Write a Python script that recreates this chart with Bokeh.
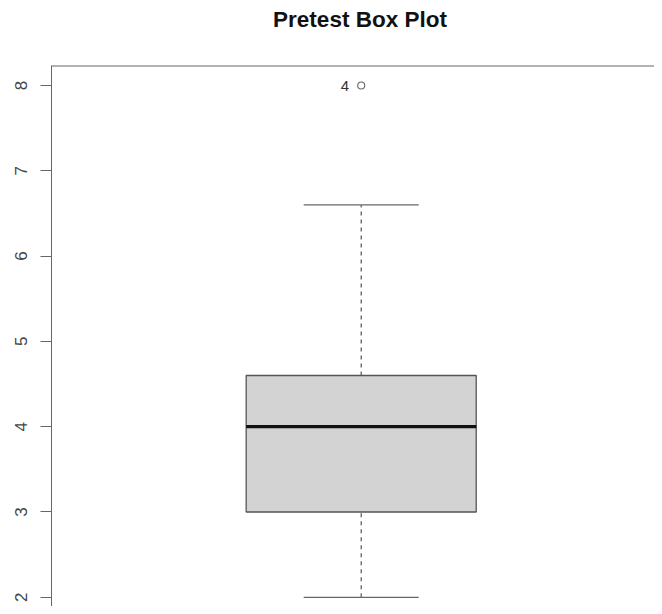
from bokeh.plotting import figure
from bokeh.models import Range1d, Span, FixedTicker, Div
from bokeh.layouts import column
from bokeh.core.properties import value
from bokeh.embed import file_html
from bokeh.resources import INLINE

# ---- data ----
title_text = "Pretest Box Plot"
group = [0.0]
q1 = [3.0]
median = [4.0]
q3 = [4.6]
lower_whisker = [2.0]
upper_whisker = [6.6]
outlier_x = [0.0]
outlier_y = [8.0]
outlier_label = ["4"]
y_ticks = [2, 3, 4, 5, 6, 7, 8]

box_half = 0.4
cap_half = 0.2
y_top = 8.234
y_bottom = 1.892

title_div = Div(
    text=('<div style="margin-left:66px;width:588px;text-align:center;'
          'line-height:40px;font-family:\'Liberation Sans\',Arial,sans-serif;'
          'font-weight:bold;font-size:22.5px;color:#111111;white-space:nowrap;">'
          + title_text + '</div>'),
    width=654, height=65, margin=(0, 0, 0, 0))

p = figure(width=654, height=541, output_backend="svg", toolbar_location=None,
           x_range=Range1d(-1.077, 1.020), y_range=Range1d(y_bottom, y_top),
           min_border_left=51, min_border_right=0, min_border_top=0, min_border_bottom=0,
           margin=(0, 0, 0, 0))
p.xaxis.visible = False
p.xgrid.visible = False
p.ygrid.visible = False
p.outline_line_color = None
p.background_fill_color = "white"
p.border_fill_color = "white"

ya = p.yaxis[0]
ya.ticker = FixedTicker(ticks=y_ticks)
ya.major_label_orientation = "vertical"
ya.major_label_text_font = "Liberation Sans"
ya.major_label_text_font_size = "17px"
ya.major_label_text_color = "#444444"
ya.major_tick_out = 11
ya.major_tick_in = 0
ya.minor_tick_out = 0
ya.minor_tick_in = 0
ya.major_label_standoff = 13
ya.axis_line_color = "#666666"
ya.major_tick_line_color = "#666666"

top_line = Span(location=y_top, dimension="width", line_color="#666666", line_width=2)
p.add_layout(top_line)

gx0 = [g - box_half for g in group]
gx1 = [g + box_half for g in group]
cx0 = [g - cap_half for g in group]
cx1 = [g + cap_half for g in group]

# whiskers (dashed)
p.segment(x0=group, y0=q3, x1=group, y1=upper_whisker, line_color="#555555",
          line_width=1.2, line_dash="4 4")
p.segment(x0=group, y0=lower_whisker, x1=group, y1=q1, line_color="#555555",
          line_width=1.2, line_dash="4 4")
# caps
p.segment(x0=cx0, y0=upper_whisker, x1=cx1, y1=upper_whisker, line_color="#666666", line_width=1.3)
p.segment(x0=cx0, y0=lower_whisker, x1=cx1, y1=lower_whisker, line_color="#666666", line_width=1.3)
# box
p.quad(left=gx0, right=gx1, bottom=q1, top=q3, fill_color="#D3D3D3",
       line_color="#555555", line_width=1.3)
# median
p.segment(x0=gx0, y0=median, x1=gx1, y1=median, line_color="#111111", line_width=3.2)
# outlier
p.scatter(x=outlier_x, y=outlier_y, marker="circle", size=7, fill_color=None,
          line_color="#666666", line_width=1.1)
p.text(x=outlier_x, y=outlier_y, text=outlier_label, text_align="right",
       text_baseline="middle", x_offset=-12, y_offset=1, text_font=value("Liberation Sans"),
       text_font_size="15px", text_color="#333333")

layout = column(title_div, p, spacing=0)
open("out.html", "w").write(file_html(layout, INLINE))
